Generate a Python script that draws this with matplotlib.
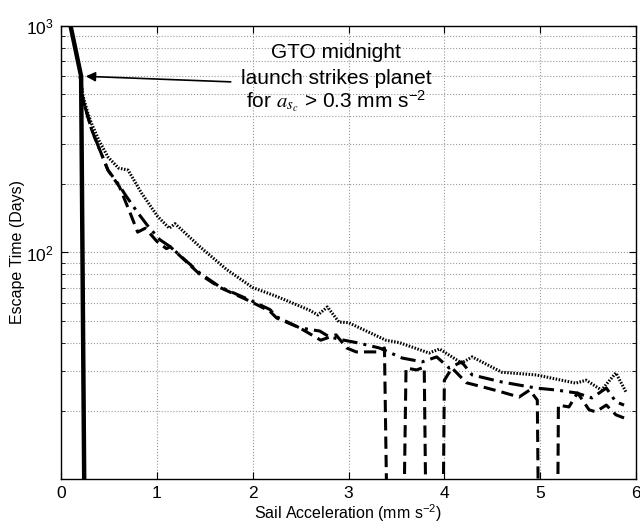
import matplotlib
matplotlib.use("Agg")
from matplotlib import pyplot as plt
from matplotlib.ticker import FixedLocator, NullFormatter, LogFormatterMathtext

plt.rcParams['font.family'] = ['Liberation Sans', 'DejaVu Sans']
plt.rcParams['mathtext.fontset'] = 'stix'

# solid: GTO midnight launch (strikes planet)
solid_x = [0.10, 0.21, 0.26]
solid_y = [1000, 600, 1]

# dotted (upper curve)
dot_x = [0.20, 0.23, 0.28, 0.32, 0.40, 0.49, 0.60, 0.70, 0.84, 1.01, 1.13, 1.19,
         1.45, 1.73, 2.00, 2.25, 2.59, 2.68, 2.78, 2.90, 3.00, 3.39, 3.53, 3.84,
         3.95, 4.18, 4.29, 4.60, 4.96, 5.37, 5.48, 5.64, 5.79, 5.90]
dot_y = [600, 490, 413, 370, 310, 264, 236, 231, 183, 144, 128, 134,
         106, 84, 70, 64, 55.7, 53, 57.5, 49.3, 49, 41, 40, 36,
         37.5, 32.5, 34.6, 29.6, 28.8, 26.5, 27.3, 24.7, 29.4, 24]

# dash-dot (middle curve)
dd_x = [0.20, 0.23, 0.32, 0.49, 0.60, 0.67, 0.80, 0.90, 1.03, 1.14, 1.45, 1.66,
        1.97, 2.18, 2.25, 2.49, 2.70, 2.80, 2.94, 3.11, 3.32, 3.56, 3.77, 3.92,
        4.05, 4.18, 4.29, 4.60, 4.96, 5.17, 5.375, 5.54, 5.69, 5.79, 5.875]
dd_y = [600, 471, 348, 231, 200, 180, 150, 132, 114, 106, 81, 70.4,
        61.7, 56, 52, 46.5, 45, 42.4, 41.1, 39.8, 37.9, 34.2, 32.9, 34.6,
        30.9, 32.9, 28.8, 26.8, 25.2, 24.7, 24, 22.8, 25.2, 21.9, 21.2]

# dashed (lower curve, drops to zero at several accelerations)
dash_x = [0.20, 0.23, 0.32, 0.49, 0.61, 0.72, 0.80, 0.88, 1.00, 1.10, 1.14, 1.45,
          1.66, 1.97, 2.18, 2.25, 2.49, 2.71, 2.87, 2.98, 3.08, 3.29, 3.375, 3.43,
          3.55, 3.60, 3.71, 3.79, 3.83, 3.97, 4.00, 4.08, 4.23, 4.40, 4.60, 4.78,
          4.89, 4.97, 5.00, 5.17, 5.19, 5.30, 5.39, 5.51, 5.58, 5.69, 5.79, 5.875]
dash_y = [600, 471, 348, 231, 195, 150, 123, 128, 112, 104, 106, 80,
          70, 61, 55, 51.4, 46.5, 41, 43.3, 37.9, 36.4, 36.4, 37.9, 1,
          1, 30.9, 30.3, 31.2, 1, 1, 27.3, 30.9, 26.6, 25.5, 24.2, 23,
          24.7, 22.3, 1, 1, 21.2, 20.8, 24, 20.2, 19.8, 21.2, 19.2, 18.6]

fig = plt.figure(figsize=(6.4, 5.28), dpi=100)
ax = fig.add_axes([0.0953, 0.0928, 0.8985, 0.858])

ax.plot(dot_x, dot_y, color='black', lw=2.2, linestyle=(0, (0.5, 0.5)))
ax.plot(dd_x, dd_y, color='black', lw=2.2, linestyle=(0, (5, 2, 1, 2)))
ax.plot(dash_x, dash_y, color='black', lw=2.2, linestyle=(0, (4, 2)))
ax.plot(solid_x, solid_y, color='black', lw=3.2)

ax.set_yscale('log')
ax.set_xlim(0, 6)
ax.set_ylim(10, 1000)

ax.yaxis.set_major_locator(FixedLocator([100, 1000]))
ax.yaxis.set_major_formatter(LogFormatterMathtext())
minor = [v * d for d in (10, 100) for v in range(2, 10)]
ax.yaxis.set_minor_locator(FixedLocator(minor))
ax.yaxis.set_minor_formatter(NullFormatter())
ax.set_xticks([0, 1, 2, 3, 4, 5, 6])

ax.grid(True, which='major', color='#999999', linestyle=':', lw=0.8)
ax.grid(True, which='minor', axis='y', color='#999999', linestyle=':', lw=0.8)

ax.tick_params(which='both', direction='in', top=True, right=True, labelsize=12.5)
ax.tick_params(which='major', length=5, pad=5)
ax.tick_params(which='minor', length=3)
for s in ax.spines.values():
    s.set_linewidth(1.0)

ax.set_xlabel('Sail Acceleration (mm s$^{\\mathregular{-2}}$)', fontsize=11.5, labelpad=1)
ax.set_ylabel('Escape Time (Days)', fontsize=11.5, labelpad=1)

ax.annotate('', xy=(0.23, 600), xytext=(1.80, 566),
            arrowprops=dict(arrowstyle='-|>', color='black', lw=1.2,
                            mutation_scale=14))
ax.text(2.87, 760, 'GTO midnight', ha='center', va='center', fontsize=15)
ax.text(2.87, 589, 'launch strikes planet', ha='center', va='center', fontsize=15)
ax.text(2.87, 467, 'for $a_{s_c}$ > 0.3 mm s$^{\\mathregular{-2}}$',
        ha='center', va='center', fontsize=15)

fig.savefig('out.png', dpi=100)
